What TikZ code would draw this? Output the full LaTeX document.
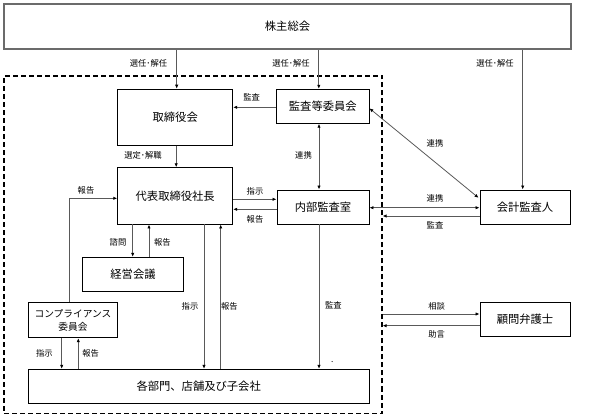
\documentclass[tikz,border=0pt]{standalone}
\usepackage{fontspec}
\setmainfont{Noto Sans CJK JP}
\usetikzlibrary{arrows.meta,calc}
\tikzset{
  box/.style={draw=black, line width=0.9pt, fill=white, inner sep=0pt, align=center,
    font=\fontsize{11.3}{14}\selectfont},
  lbl/.style={font=\fontsize{8.3}{10}\selectfont, inner sep=0pt},
  arr/.style={draw=black!65, line width=0.8pt, -{Latex[length=4pt,width=3.4pt,color=black]}},
  darr/.style={draw=black!65, line width=0.8pt, {Latex[length=4pt,width=3.4pt,color=black]}-{Latex[length=4pt,width=3.4pt,color=black]}},
  ln/.style={draw=black!65, line width=0.8pt}
}
\begin{document}
\begin{tikzpicture}[x=1pt,y=-1pt]
\useasboundingbox (0,0) rectangle (597,419);
% dashed company frame
\node[draw=black, line width=1.2pt, dash pattern=on 5pt off 3pt, minimum width=378pt, minimum height=337.5pt, inner sep=0pt] (D) at (193,244.75) {};
% shareholders
\node[draw=black!58, line width=1.8pt, minimum width=567pt, minimum height=45pt, inner sep=0pt, font=\fontsize{11.3}{14}\selectfont] (S) at (287.5,26.7) {株主総会};
% boxes
\node[box, minimum width=115pt, minimum height=56pt] (T) at (175.2,117.2) {取締役会};
\node[box, minimum width=92.3pt, minimum height=34pt] (A) at (322.8,106.3) {監査等委員会};
\node[box, minimum width=115pt, minimum height=56.3pt] (P) at (175.2,195.9) {代表取締役社長};
\node[box, minimum width=92pt, minimum height=34pt] (I) at (323,207) {内部監査室};
\node[box, minimum width=90pt, minimum height=34pt] (K) at (525,207) {会計監査人};
\node[box, minimum width=100.6pt, minimum height=34.4pt] (M) at (133,274.5) {経営会議};
\node[box, minimum width=89.4pt, minimum height=35.4pt, font=\fontsize{9.7}{13}\selectfont] (C) at (73,320) {コンプライアンス\\委員会};
\node[box, minimum width=90pt, minimum height=34.4pt] (L) at (525,319.5) {顧問弁護士};
\node[box, minimum width=340.7pt, minimum height=34pt] (B) at (198.65,386.3) {各部門、店舗及び子会社};

% helper coordinates
\coordinate (sT) at ($(T.north)+(1.5,0)$);
\coordinate (sA) at ($(A.north)+(-4,0)$);
\coordinate (sK) at ($(K.north)+(-2.3,0)$);
\coordinate (aT) at ($(A.west)+(0,1)$);
\coordinate (tP1) at ($(T.south)+(1,0)$);
\coordinate (tP2) at ($(P.north)+(1,0)$);
\coordinate (aI1) at ($(A.south)+(-3.8,0)$);
\coordinate (aI2) at ($(I.north)+(-4,0)$);
\coordinate (aK1) at ($(A.east)+(0,2)$);
\coordinate (aK2) at ($(K.north west)+(-1,8.3)$);
\coordinate (iK1) at ($(I.east)+(0,0.7)$);
\coordinate (iK2) at ($(K.west)+(0,0.7)$);
\coordinate (kD) at ($(K.west)+(0,9)$);
\coordinate (pi1) at ($(I.west)+(0,-7.7)$);
\coordinate (pi2) at ($(I.west)+(0,2.3)$);
\coordinate (pm1) at ($(P.south)+(-42.5,0)$);
\coordinate (pm2) at ($(M.north)+(-0.3,0)$);
\coordinate (mp1) at ($(M.north)+(16,0)$);
\coordinate (mp2) at ($(P.south)+(-26.2,0)$);
\coordinate (pb1) at ($(P.south)+(28.8,0)$);
\coordinate (pb2) at ($(P.south)+(45.5,0)$);
\coordinate (cp) at ($(C.north)+(-4,0)$);
\coordinate (ycp) at (0,198.3);
\coordinate (cb1) at ($(C.south)+(-11.3,0)$);
\coordinate (cb2) at ($(C.south)+(5.3,0)$);
\coordinate (ib) at ($(I.south)+(-4,0)$);
\coordinate (yl1) at (0,314);
\coordinate (yl2) at (0,325.7);

% shareholders -> elected bodies
\draw[arr] (sT |- S.south) -- (sT);
\draw[arr] (sA |- S.south) -- (sA);
\draw[arr] (sK |- S.south) -- (sK);
\node[lbl] at (148.5,63.3) {選任･解任};
\node[lbl] at (291,63.3) {選任･解任};
\node[lbl] at (495,63.3) {選任･解任};

% audit committee -> board
\draw[arr] (aT) -- (aT -| T.east);
\node[lbl] at (251.7,97.7) {監査};

% board -> president
\draw[arr] (tP1) -- (tP2);
\node[lbl] at (143,155) {選定･解職};

% audit committee <-> internal audit
\draw[darr] (aI1) -- (aI2);
\node[lbl] at (303.5,155) {連携};

% audit committee <-> accounting auditor
\draw[darr] (aK1) -- (aK2);
\node[lbl] at (435,143.3) {連携};

% internal audit <-> accounting auditor
\draw[darr] (iK1) -- (iK2);
\node[lbl] at (435,198.3) {連携};
\draw[arr] (kD) -- (kD -| D.east);
\node[lbl] at (435,225.7) {監査};

% president <-> internal audit
\draw[arr] (pi1 -| P.east) -- (pi1);
\draw[arr] (pi2) -- (pi2 -| P.east);
\node[lbl] at (255,191.7) {指示};
\node[lbl] at (255,219.3) {報告};

% president <-> management meeting
\draw[arr] (pm1) -- (pm2);
\draw[arr] (mp1) -- (mp2);
\node[lbl] at (118,242.7) {諮問};
\node[lbl] at (162.3,242.7) {報告};

% president <-> departments
\draw[arr] (pb1) -- (pb1 |- B.north);
\draw[arr] (pb2 |- B.north) -- (pb2);
\node[lbl] at (190,306) {指示};
\node[lbl] at (229.3,306) {報告};

% compliance -> president
\draw[arr] (cp) -- (cp |- ycp) -- (P.west |- ycp);
\node[lbl] at (86,190) {報告};

% compliance <-> departments
\draw[arr] (cb1) -- (cb1 |- B.north);
\draw[arr] (cb2 |- B.north) -- (cb2);
\node[lbl] at (44.3,353.3) {指示};
\node[lbl] at (90.7,353.3) {報告};

% internal audit -> departments
\draw[arr] (ib) -- (ib |- B.north);
\node[lbl] at (333.3,305) {監査};
\node[lbl] at (332.3,362) {.};

% lawyer
\draw[arr] (D.east |- yl1) -- (L.west |- yl1);
\draw[arr] (L.west |- yl2) -- (D.east |- yl2);
\node[lbl] at (436.7,306.7) {相談};
\node[lbl] at (436.7,334) {助言};
\end{tikzpicture}
\end{document}
